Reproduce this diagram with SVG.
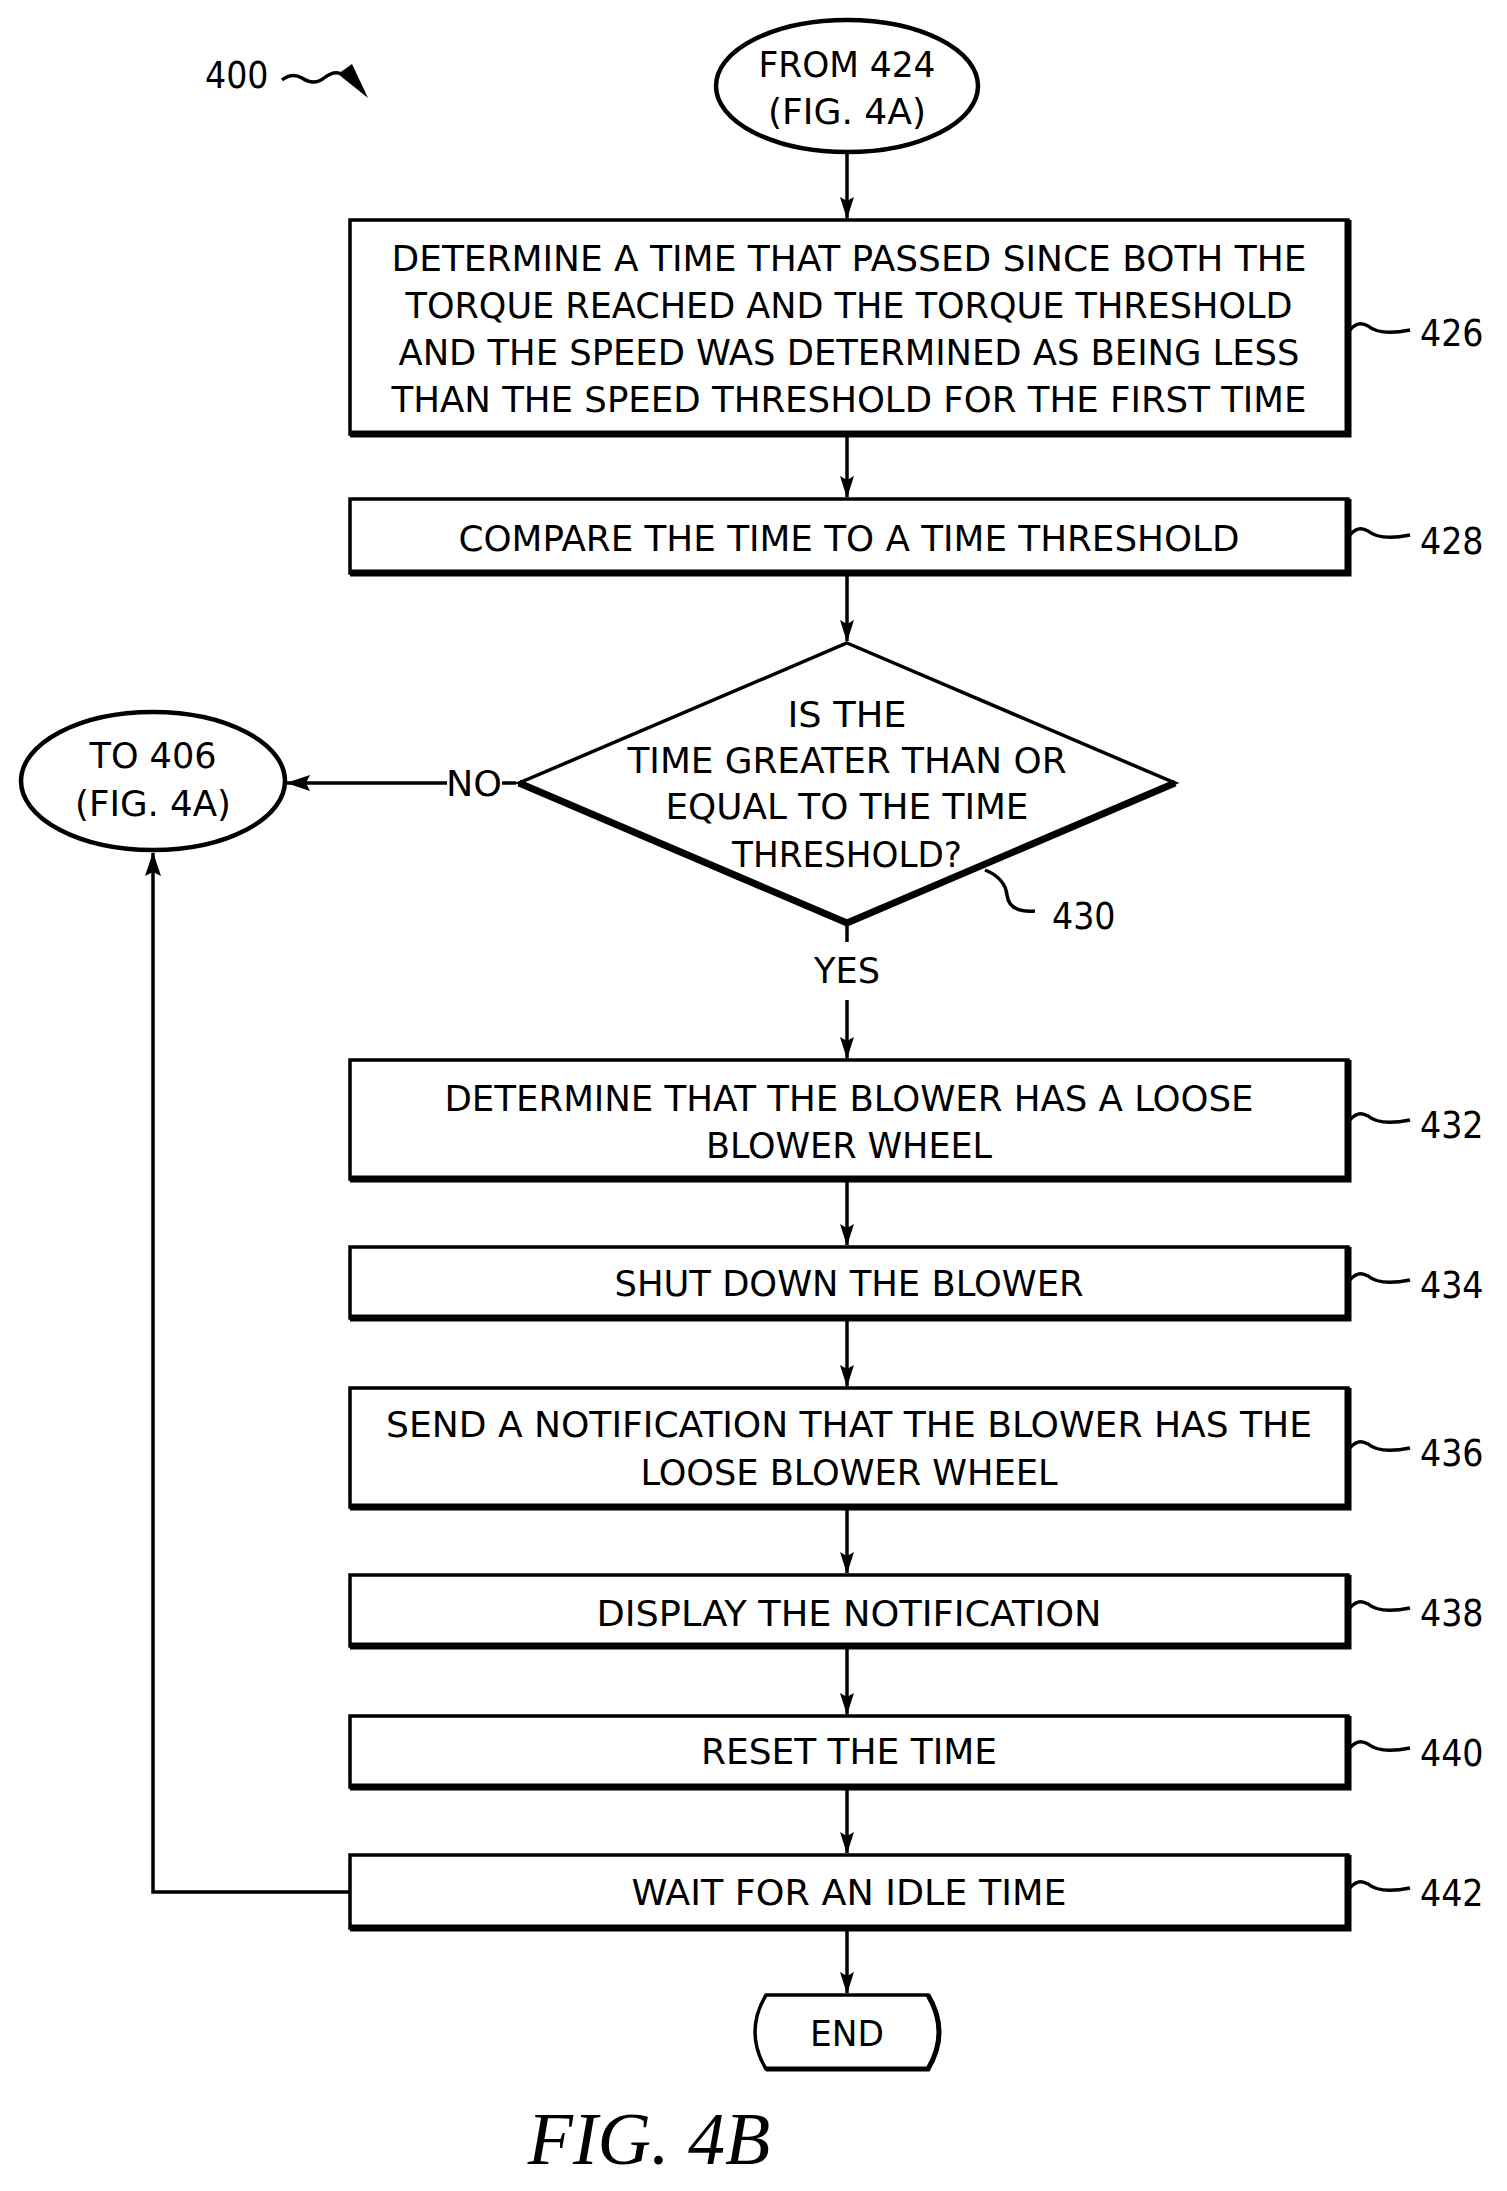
<svg xmlns="http://www.w3.org/2000/svg" width="1507" height="2191" viewBox="0 0 1507 2191">
<style>
text{font-family:"DejaVu Sans Condensed","DejaVu Sans",sans-serif;font-size:36px;fill:#000;text-anchor:middle}
.lbl{text-anchor:start;font-size:37px}
.box{fill:#fff;stroke:#000;stroke-width:3.5}
.ell{fill:#fff;stroke:#000;stroke-width:4.5}
.sh{fill:none;stroke:#000;stroke-width:7}
.ln{fill:none;stroke:#000;stroke-width:3.5}
.fig{font-family:"Liberation Serif",serif;font-style:italic;font-size:74px}
</style>
<defs>
<marker id="ar" markerWidth="14" markerHeight="22" refX="7" refY="21" orient="0" markerUnits="userSpaceOnUse"><path d="M0,0 L7,22 L14,0 L7,4 Z"/></marker>
<marker id="arw" markerWidth="24" markerHeight="16" refX="23" refY="8" orient="auto" markerUnits="userSpaceOnUse"><path d="M0,0 L24,8 L0,16 L4,8 Z"/></marker>
<marker id="aru" markerWidth="16" markerHeight="24" refX="8" refY="1" orient="0" markerUnits="userSpaceOnUse"><path d="M0,24 L8,0 L16,24 L8,20 Z"/></marker>
</defs>
<g id="connectors">
<line class="ln" x1="847" y1="153" x2="847" y2="218" marker-end="url(#ar)"/>
<line class="ln" x1="847" y1="437" x2="847" y2="497" marker-end="url(#ar)"/>
<line class="ln" x1="847" y1="576" x2="847" y2="641" marker-end="url(#ar)"/>
<line class="ln" x1="516" y1="783" x2="502" y2="783"/>
<line class="ln" x1="447" y1="783" x2="287" y2="783" marker-end="url(#arw)"/>
<line class="ln" x1="847" y1="923" x2="847" y2="942"/>
<line class="ln" x1="847" y1="1000" x2="847" y2="1058" marker-end="url(#ar)"/>
<line class="ln" x1="847" y1="1182" x2="847" y2="1245" marker-end="url(#ar)"/>
<line class="ln" x1="847" y1="1321" x2="847" y2="1386" marker-end="url(#ar)"/>
<line class="ln" x1="847" y1="1510" x2="847" y2="1573" marker-end="url(#ar)"/>
<line class="ln" x1="847" y1="1649" x2="847" y2="1714" marker-end="url(#ar)"/>
<line class="ln" x1="847" y1="1790" x2="847" y2="1853" marker-end="url(#ar)"/>
<line class="ln" x1="847" y1="1931" x2="847" y2="1993" marker-end="url(#ar)"/>
<polyline class="ln" points="350,1892 153,1892 153,853" marker-end="url(#aru)"/>
</g>
<g id="label400">
<text class="lbl" x="205" y="88">400</text>
<path class="ln" d="M282,80 q10,-8 20,-2 q12,8 22,0 q10,-8 18,-4" />
<path d="M338,74 L352,64 L368,98 Z"/>
</g>
<g id="start">
<ellipse class="ell" cx="847" cy="86" rx="131" ry="66"/>
<text x="847" y="77" textLength="177" lengthAdjust="spacingAndGlyphs">FROM 424</text>
<text x="847" y="124" textLength="158" lengthAdjust="spacingAndGlyphs">(FIG. 4A)</text>
</g>
<g id="n426">
<rect class="box" x="350" y="220" width="998" height="214"/>
<polyline class="sh" points="350,434 1348,434 1348,220"/>
<text x="849" y="271" textLength="915" lengthAdjust="spacingAndGlyphs">DETERMINE A TIME THAT PASSED SINCE BOTH THE</text>
<text x="849" y="318" textLength="887" lengthAdjust="spacingAndGlyphs">TORQUE REACHED AND THE TORQUE THRESHOLD</text>
<text x="849" y="365" textLength="901" lengthAdjust="spacingAndGlyphs">AND THE SPEED WAS DETERMINED AS BEING LESS</text>
<text x="849" y="412" textLength="915" lengthAdjust="spacingAndGlyphs">THAN THE SPEED THRESHOLD FOR THE FIRST TIME</text>
<path class="ln" d="M1350,330 q8,-10 18,-4 q12,10 42,4"/>
<text class="lbl" x="1420" y="346">426</text>
</g>
<g id="n428">
<rect class="box" x="350" y="499" width="998" height="74"/>
<polyline class="sh" points="350,573 1348,573 1348,499"/>
<text x="849" y="551" textLength="781" lengthAdjust="spacingAndGlyphs">COMPARE THE TIME TO A TIME THRESHOLD</text>
<path class="ln" d="M1350,535 q8,-10 18,-4 q12,10 42,4"/>
<text class="lbl" x="1420" y="554">428</text>
</g>
<g id="n430">
<polygon class="box" points="847,643 1175,783 847,923 519,783"/>
<polyline class="sh" points="519,783 847,923 1175,783"/>
<text x="847" y="727" textLength="119" lengthAdjust="spacingAndGlyphs">IS THE</text>
<text x="847" y="773" textLength="439" lengthAdjust="spacingAndGlyphs">TIME GREATER THAN OR</text>
<text x="847" y="819" textLength="363" lengthAdjust="spacingAndGlyphs">EQUAL TO THE TIME</text>
<text x="847" y="867" textLength="230" lengthAdjust="spacingAndGlyphs">THRESHOLD?</text>
<path class="ln" d="M985,870 q20,8 22,25 q2,18 28,16"/>
<text class="lbl" x="1052" y="929">430</text>
<text x="474" y="796" textLength="56" lengthAdjust="spacingAndGlyphs">NO</text>
<text x="847" y="983" textLength="66" lengthAdjust="spacingAndGlyphs">YES</text>
</g>
<g id="to406">
<ellipse class="ell" cx="153" cy="781" rx="132" ry="69"/>
<text x="153" y="768" textLength="127" lengthAdjust="spacingAndGlyphs">TO 406</text>
<text x="153" y="816" textLength="156" lengthAdjust="spacingAndGlyphs">(FIG. 4A)</text>
</g>
<g id="n432">
<rect class="box" x="350" y="1060" width="998" height="119"/>
<polyline class="sh" points="350,1179 1348,1179 1348,1060"/>
<text x="849" y="1111" textLength="809" lengthAdjust="spacingAndGlyphs">DETERMINE THAT THE BLOWER HAS A LOOSE</text>
<text x="849" y="1158" textLength="286" lengthAdjust="spacingAndGlyphs">BLOWER WHEEL</text>
<path class="ln" d="M1350,1120 q8,-10 18,-4 q12,10 42,4"/>
<text class="lbl" x="1420" y="1138">432</text>
</g>
<g id="n434">
<rect class="box" x="350" y="1247" width="998" height="71"/>
<polyline class="sh" points="350,1318 1348,1318 1348,1247"/>
<text x="849" y="1296" textLength="469" lengthAdjust="spacingAndGlyphs">SHUT DOWN THE BLOWER</text>
<path class="ln" d="M1350,1280 q8,-10 18,-4 q12,10 42,4"/>
<text class="lbl" x="1420" y="1298">434</text>
</g>
<g id="n436">
<rect class="box" x="350" y="1388" width="998" height="119"/>
<polyline class="sh" points="350,1507 1348,1507 1348,1388"/>
<text x="849" y="1437" textLength="926" lengthAdjust="spacingAndGlyphs">SEND A NOTIFICATION THAT THE BLOWER HAS THE</text>
<text x="849" y="1485" textLength="417" lengthAdjust="spacingAndGlyphs">LOOSE BLOWER WHEEL</text>
<path class="ln" d="M1350,1448 q8,-10 18,-4 q12,10 42,4"/>
<text class="lbl" x="1420" y="1466">436</text>
</g>
<g id="n438">
<rect class="box" x="350" y="1575" width="998" height="71"/>
<polyline class="sh" points="350,1646 1348,1646 1348,1575"/>
<text x="849" y="1626" textLength="505" lengthAdjust="spacingAndGlyphs">DISPLAY THE NOTIFICATION</text>
<path class="ln" d="M1350,1608 q8,-10 18,-4 q12,10 42,4"/>
<text class="lbl" x="1420" y="1626">438</text>
</g>
<g id="n440">
<rect class="box" x="350" y="1716" width="998" height="71"/>
<polyline class="sh" points="350,1787 1348,1787 1348,1716"/>
<text x="849" y="1764" textLength="296" lengthAdjust="spacingAndGlyphs">RESET THE TIME</text>
<path class="ln" d="M1350,1748 q8,-10 18,-4 q12,10 42,4"/>
<text class="lbl" x="1420" y="1766">440</text>
</g>
<g id="n442">
<rect class="box" x="350" y="1855" width="998" height="73"/>
<polyline class="sh" points="350,1928 1348,1928 1348,1855"/>
<text x="849" y="1905" textLength="435" lengthAdjust="spacingAndGlyphs">WAIT FOR AN IDLE TIME</text>
<path class="ln" d="M1350,1888 q8,-10 18,-4 q12,10 42,4"/>
<text class="lbl" x="1420" y="1906">442</text>
</g>
<g id="end">
<path class="box" d="M766,1995 L928,1995 Q950,2032 928,2069 L766,2069 Q744,2032 766,1995 Z"/>
<path class="sh" d="M928,1995 Q950,2032 928,2069 L766,2069" style="stroke-width:5"/>
<text x="847" y="2046" textLength="74" lengthAdjust="spacingAndGlyphs">END</text>
</g>
<text class="fig" x="649" y="2164">FIG. 4B</text>
</svg>
